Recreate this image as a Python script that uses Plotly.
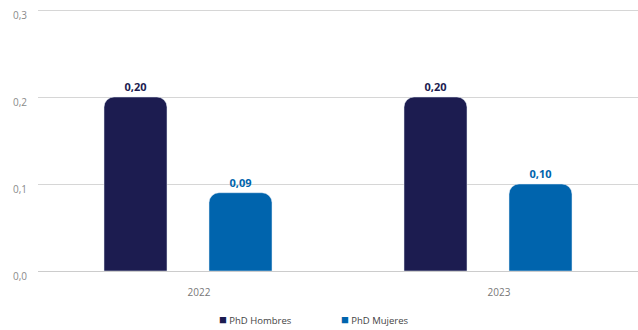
import plotly.graph_objects as go

years = ["2022", "2023"]
phd_hombres = [0.20, 0.20]
phd_mujeres = [0.09, 0.10]
y_ticks = [0.0, 0.1, 0.2, 0.3]
series_names = ["PhD Hombres", "PhD Mujeres"]

navy = "#1c1c50"
blue = "#0064ad"

fig = go.Figure()
for name, vals, col in [(series_names[0], phd_hombres, navy),
                        (series_names[1], phd_mujeres, blue)]:
    fig.add_trace(go.Bar(
        name=name, x=years, y=vals,
        marker=dict(color=col, cornerradius=10),
        texttemplate="%{y:.2f}", textposition="outside",
        textfont=dict(color=col, size=11, family="Open Sans", weight="bold"),
        cliponaxis=False, showlegend=False,
    ))

# legend drawn as text entries with a coloured square glyph
legend_x = [0.298, 0.501]
for name, col, lx in zip(series_names, [navy, blue], legend_x):
    fig.add_annotation(
        xref="paper", yref="paper", x=lx, y=-0.18, xanchor="left", yanchor="middle",
        text=f"<span style='color:{col};font-size:13px'>■</span> {name}",
        showarrow=False, font=dict(size=9.5, color="#444444", family="Open Sans"),
    )

fig.update_layout(
    width=638, height=330,
    margin=dict(l=38, r=0, t=7, b=59, autoexpand=False),
    paper_bgcolor="white", plot_bgcolor="white",
    separators=",.",
    barmode="group", bargap=0.3, bargroupgap=0.4,
    font=dict(family="Open Sans", size=10, color="#777777"),
    showlegend=False,
    xaxis=dict(showgrid=False, showline=False, ticks="", ticklabelshift=11,
               ticklabelstandoff=14,
               tickfont=dict(size=10, color="#777777")),
    yaxis=dict(range=[0, 0.3035], tickvals=y_ticks, tickformat=".1f",
               showgrid=True, gridcolor="#d6d6d6", gridwidth=1,
               zeroline=True, zerolinecolor="#cccccc", zerolinewidth=1,
               ticks="", ticklabelstandoff=10, ticklabelshift=5,
               tickfont=dict(size=10, color="#8a8a8a")),
)

fig.write_html("out.html")
